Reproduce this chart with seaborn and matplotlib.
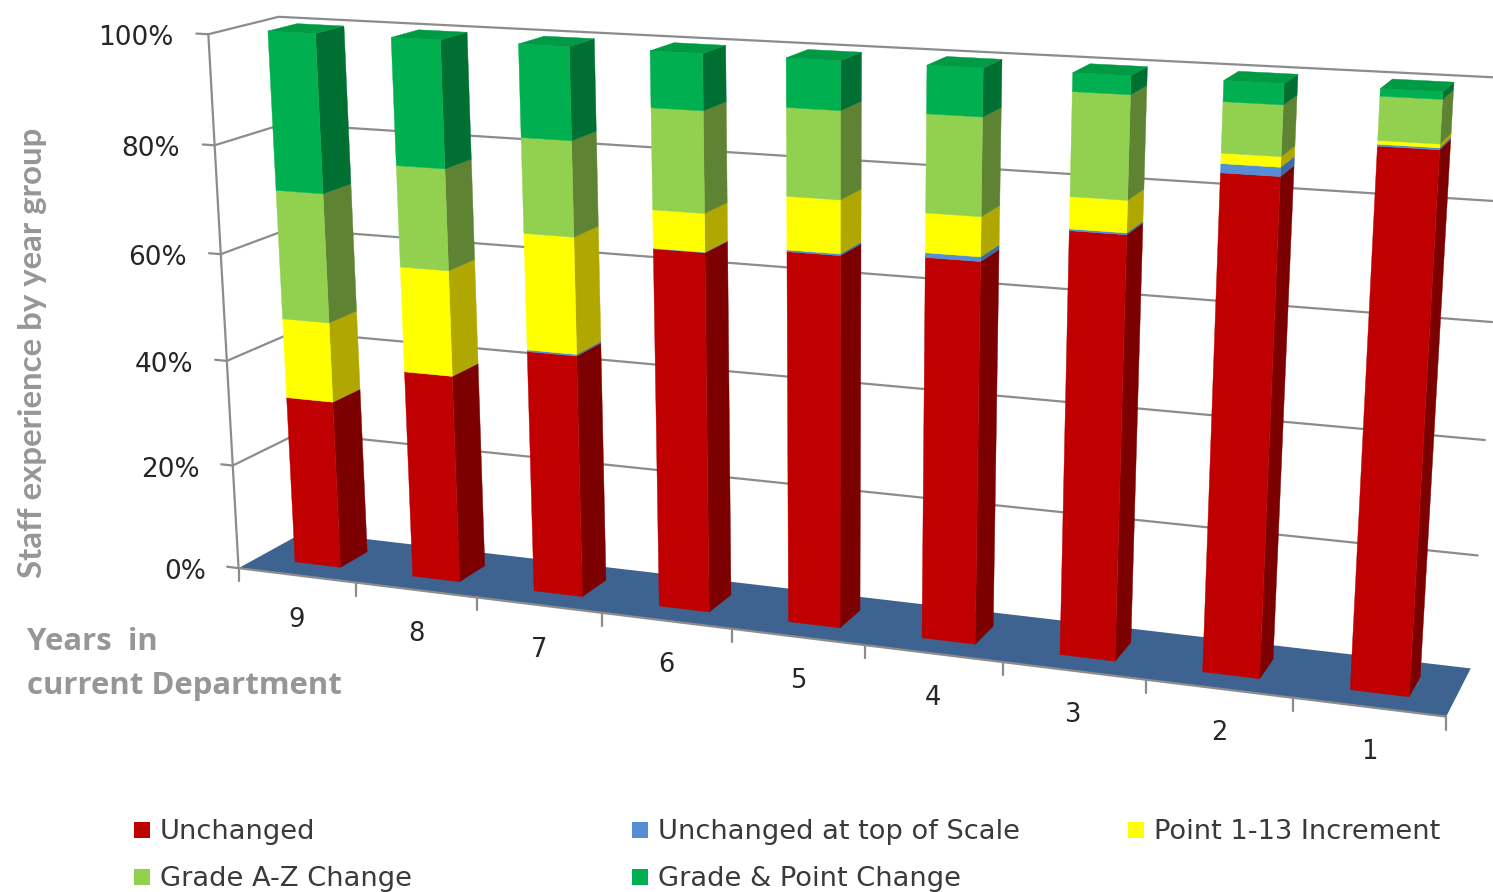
import numpy as np
import matplotlib
matplotlib.use("Agg")
import matplotlib.pyplot as plt
import seaborn as sns
from matplotlib.patches import Rectangle

# Share of staff (percent) per year group, one list per stacked series
years = ["9", "8", "7", "6", "5", "4", "3", "2", "1"]
unchanged = [32.0, 39.1, 45.0, 65.5, 66.8, 67.6, 73.9, 85.1, 90.9]
unchanged_top = [0.0, 0.0, 0.3, 0.1, 0.3, 0.8, 0.3, 1.5, 0.3]
increment = [15.0, 19.5, 21.2, 6.8, 9.3, 6.8, 5.4, 1.7, 0.6]
grade_change = [24.0, 18.5, 17.1, 17.8, 15.2, 16.7, 17.3, 8.3, 7.0]
grade_point = [29.0, 22.9, 16.4, 9.8, 8.4, 8.1, 3.1, 3.4, 1.2]

series_names = ["Unchanged", "Unchanged at top of Scale", "Point 1-13 Increment",
                "Grade A-Z Change", "Grade & Point Change"]
value_ticks = [0, 20, 40, 60, 80, 100]

sns.set_theme(style="white")
plt.rcParams["font.family"] = ["DejaVu Sans"]

front_cols = sns.color_palette(["#C00000", "#558ED5", "#FFFF00", "#92D050", "#00B050"])
side_cols = sns.color_palette(["#7C0000", "#3C6AA5", "#B0A800", "#5E8433", "#006F32"])
top_cols = sns.color_palette(["#A00000", "#4A7CBC", "#D8D800", "#7DB244", "#009A45"])
FLOOR = "#3F6390"
GRID = "#8C8C8C"
LABEL = "#969696"

# Camera for the box: unit box corners (across, height, depth) and where they land
box_corners = np.array([[0, 0, 0], [0, 1, 0], [0, 1, 1], [0, 0, 1],
                        [1, 0, 0], [1, 0, 1], [1, 1, 1]], float)
box_screen = np.array([[240, 568], [207, 34], [280, 17], [303, 532],
                       [1446, 717], [1471, 668], [1507, 78]], float)


def solve_camera(world, screen):
    rows = []
    for (x, y, z), (u, v) in zip(world, screen):
        rows.append([x, y, z, 1, 0, 0, 0, 0, -u * x, -u * y, -u * z, -u])
        rows.append([0, 0, 0, 0, x, y, z, 1, -v * x, -v * y, -v * z, -v])
    _, _, vt = np.linalg.svd(np.array(rows))
    return vt[-1].reshape(3, 4)


CAM = solve_camera(box_corners, box_screen)


def proj(x, y, z):
    p = CAM @ np.array([x, y, z, 1.0])
    return p[0] / p[2], p[1] / p[2]


def across(i, t=0.5):
    return (i + t) / len(years)


fig = plt.figure(figsize=(14.93, 8.92), dpi=100)
ax = fig.add_axes([0, 0, 1, 1])
ax.set_xlim(0, 1493)
ax.set_ylim(892, 0)
ax.axis("off")

# Floor
ax.fill(*zip(proj(0, 0, 0), proj(1, 0, 0), proj(1, 0, 1), proj(0, 0, 1)),
        color=FLOOR, lw=0, zorder=1)

# Wall gridlines and the value axis
for val in value_ticks:
    h = val / 100
    a, b, c, d = proj(0, h, 0), proj(0, h, 1), proj(1, h, 1), proj(-0.011, h, 0)
    if val > 0:
        ax.plot(*zip(a, b, c), color=GRID, lw=1.6, zorder=2, solid_joinstyle="miter")
    ax.plot(*zip(d, a), color=GRID, lw=1.6, zorder=2)
    ax.text(a[0] - 32 - 3 * h, a[1] + 4, f"{val}%", ha="right", va="center",
            fontsize=19, color="#262626", zorder=6)
ax.plot(*zip(proj(0, 0, 0), proj(0, 1, 0)), color=GRID, lw=1.6, zorder=2)

# Category axis with ticks between the groups
ax.plot(*zip(proj(0, 0, 0), proj(1, 0, 0)), color=GRID, lw=1.6, zorder=2)
for i in range(len(years) + 1):
    x, y = proj(across(i, 0), 0, 0)
    ax.plot([x, x], [y, y + 13], color=GRID, lw=1.6, zorder=2)
for i, lab in enumerate(years):
    x, y = proj(across(i), 0, 0)
    ax.text(x, y + 44.5, lab, ha="center", va="center", fontsize=18.5, color="#262626", zorder=6)

# Stacked columns, one box per segment
stack = np.array([unchanged, unchanged_top, increment, grade_change, grade_point]) / 100
BAR_L, BAR_R = 0.32, 0.71
DEP_F, DEP_B = 0.29, 0.71
for i in range(len(years)):
    x0, x1 = across(i, BAR_L), across(i, BAR_R)
    base = 0.0
    for s, share in enumerate(stack[:, i]):
        if share <= 0:
            continue
        top = base + share
        ax.fill(*zip(proj(x1, base, DEP_F), proj(x1, base, DEP_B),
                     proj(x1, top, DEP_B), proj(x1, top, DEP_F)),
                color=side_cols[s], lw=0.3, zorder=3)
        ax.fill(*zip(proj(x0, base, DEP_F), proj(x1, base, DEP_F),
                     proj(x1, top, DEP_F), proj(x0, top, DEP_F)),
                color=front_cols[s], lw=0.3, zorder=4)
        base = top
    ax.fill(*zip(proj(x0, base, DEP_F), proj(x1, base, DEP_F),
                 proj(x1, base, DEP_B), proj(x0, base, DEP_B)),
            color=top_cols[4], lw=0.3, zorder=5)

# Axis titles
ax.text(33, 353, "Staff experience by year group", rotation=90, ha="center", va="center",
        fontsize=23.8, fontweight="bold", color=LABEL, family="Lato")
ax.text(27, 642, "Years  in", ha="left", va="center", fontsize=22.4,
        fontweight="bold", color=LABEL, family="Open Sans")
ax.text(27, 686, "current Department", ha="left", va="center", fontsize=22.4,
        fontweight="bold", color=LABEL, family="Open Sans")

# Legend rows
legend_x = [134, 632, 1128, 134, 632]
legend_y = [830, 830, 830, 877, 877]
for name, col, lx, ly in zip(series_names, front_cols, legend_x, legend_y):
    ax.add_patch(Rectangle((lx, ly - 8), 16, 16, color=col, lw=0, zorder=6))
    ax.text(lx + 26, ly + 2, name, ha="left", va="center", fontsize=19.6, color="#3A3A3A")

fig.savefig("out.png", dpi=100)
